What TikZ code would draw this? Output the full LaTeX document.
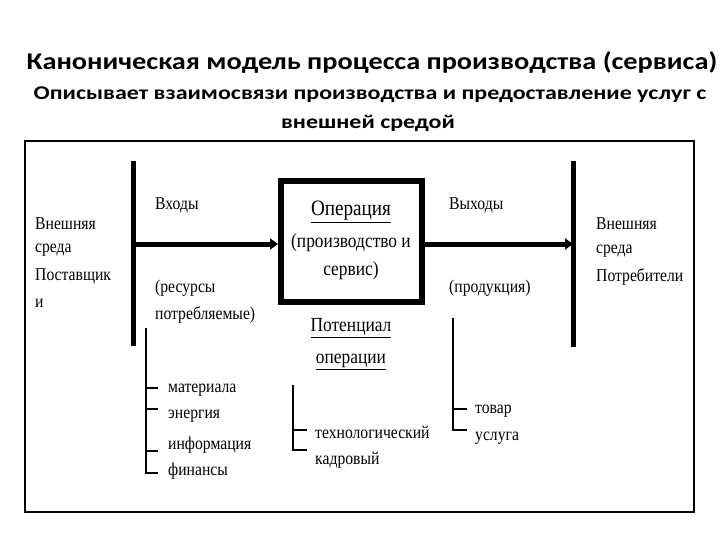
\documentclass[tikz,border=0pt]{standalone}
\usepackage{fontspec}
\setmainfont{Liberation Serif}
\newfontfamily\titlefont[FakeStretch=1.18]{Carlito}
\newfontfamily\subfont[FakeStretch=1.23]{Carlito}
\newfontfamily\tnr[FakeStretch=0.87]{Liberation Serif}
\usetikzlibrary{arrows.meta}
\begin{document}
\begin{tikzpicture}[x=1pt,y=-1pt,
  lbl/.style={anchor=west,inner sep=0pt,font=\tnr\fontsize{18}{20}\selectfont},
  clbl/.style={anchor=center,inner sep=0pt,font=\tnr\fontsize{18}{20}\selectfont},
  bar/.style={line width=5pt},
  flow/.style={line width=5pt,-{Triangle[length=8pt,width=11pt]}},
  brack/.style={line width=1.3pt}]
\useasboundingbox (0,0) rectangle (720,540);
% titles
\node[inner sep=0pt,font=\titlefont\bfseries\fontsize{24}{26}\selectfont] (title) at (372,63) {Каноническая модель процесса производства (сервиса)};
\node[inner sep=0pt,font=\subfont\bfseries\fontsize{19.5}{22}\selectfont] (sub1) at (370,95) {Описывает взаимосвязи производства и предоставление услуг с};
\node[inner sep=0pt,font=\subfont\bfseries\fontsize{19.5}{22}\selectfont] (sub2) at (368,123) {внешней средой};
% frame
\node[draw,line width=1.6pt,minimum width=669pt,minimum height=371pt,inner sep=0pt] (frame) at (359.5,326.5) {};
% bars
\coordinate (lbt) at (133,161); \coordinate (lbb) at (133,346);
\coordinate (rbt) at (573,161); \coordinate (rbb) at (573,347);
\draw[bar] (lbt) -- (lbb);
\draw[bar] (rbt) -- (rbb);
% operation box
\node[draw,line width=6pt,minimum width=141pt,minimum height=121pt,inner sep=0pt] (op) at (351.5,241.5) {};
\coordinate (lin) at (133,244);
\coordinate (rout) at (573,244);
\draw[flow] (lin) -- (op.west |- lin);
\draw[flow] (op.east |- rout) -- (rout);
% box text
\node[clbl,font=\tnr\fontsize{22}{24}\selectfont] (opt) at (351,212) {\underline{Операция}};
\node[clbl,font=\tnr\fontsize{20}{22}\selectfont] (opt2) at (351,243) {(производство и};
\node[clbl,font=\tnr\fontsize{20}{22}\selectfont] (opt3) at (351,271) {сервис)};
\node[clbl,font=\tnr\fontsize{20}{22}\selectfont] (pot1) at (351,328) {\underline{Потенциал}};
\node[clbl,font=\tnr\fontsize{20}{22}\selectfont] (pot2) at (351,362) {\underline{операции}};
% left side
\node[lbl] (l1) at (35,224) {Внешняя};
\node[lbl] (l2) at (35,250) {среда};
\node[lbl] (l3) at (35,276) {Поставщик};
\node[lbl] (l4) at (35,303) {и};
\node[lbl] (in1) at (155,205) {Входы};
\node[lbl] (in2) at (155,288) {(ресурсы};
\node[lbl] (in3) at (155,315) {потребляемые)};
% right side
\node[lbl] (out1) at (449,205) {Выходы};
\node[lbl] (out2) at (449,288) {(продукция)};
\node[lbl] (r1) at (596,224) {Внешняя};
\node[lbl] (r2) at (596,251) {среда};
\node[lbl] (r3) at (596,277) {Потребители};
% left bracket
\node[lbl] (m1) at (168,390) {материала};
\node[lbl] (m2) at (168,416) {энергия};
\node[lbl] (m3) at (168,445) {информация};
\node[lbl] (m4) at (168,471) {финансы};
\coordinate (lbk) at (146,328);
\draw[brack] (lbk) -- (146,473) -- (158,473);
\draw[brack] (146,388) -- (158,388);
\draw[brack] (146,409) -- (158,409);
\draw[brack] (146,451) -- (158,451);
% middle bracket
\node[lbl] (p1) at (315,432) {технологический};
\node[lbl] (p2) at (315,460) {кадровый};
\coordinate (mbk) at (293,385);
\draw[brack] (mbk) -- (293,450) -- (307,450);
\draw[brack] (293,430) -- (307,430);
% right bracket
\node[lbl] (o1) at (475,411) {товар};
\node[lbl] (o2) at (475,438) {услуга};
\coordinate (rbk) at (453,318);
\draw[brack] (rbk) -- (453,430) -- (467,430);
\draw[brack] (453,409) -- (467,409);
\end{tikzpicture}
\end{document}
